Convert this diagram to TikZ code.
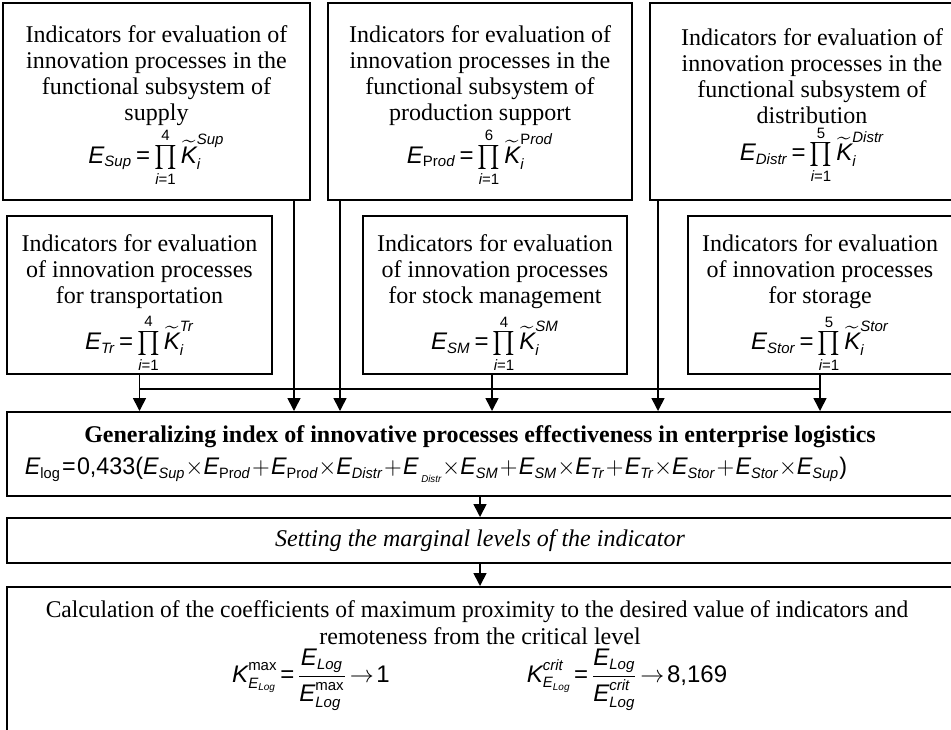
\documentclass[tikz,border=0pt]{standalone}
\usepackage{amsmath}
\usepackage{fontspec}
\setmainfont{Liberation Serif}
\newfontfamily\arf{Liberation Sans}
\usetikzlibrary{arrows.meta,calc}
\DeclareMathSizes{12}{12}{7.5}{5}
\newcommand{\si}[1]{\text{\arf\itshape #1}}
\newcommand{\su}[1]{\text{\arf\upshape #1}}
\newcommand{\peq}{\mathrel{\su{=}}}
\newcommand{\prodf}[4]{\raisebox{0pt}[\height][#4]{$\thickmuskip=3mu\si{E}_{#1}\peq\prod\limits_{\si{i}\su{=1}}^{\su{#2}}\widetilde{\si{K}}_{\si{i}}^{#3}$}}
\tikzset{
  box/.style={draw, line width=1pt, inner sep=0pt, align=center,
    font=\fontsize{12}{13}\selectfont},
  arr/.style={-{Triangle[width=6.5pt,length=6.5pt]}, line width=0.8pt},
  ln/.style={line width=0.8pt},
  txt/.style={font=\fontsize{12}{13}\selectfont, inner sep=0pt}
}
\begin{document}
\begin{tikzpicture}[x=0.5pt,y=-0.5pt]
\useasboundingbox (0,0) rectangle (951,729);
\clip (0,0) rectangle (951,729);
% top row
\node[box, minimum width=153.5pt, minimum height=98.5pt] (sup) at (156.5,101.5)
  {Indicators for evaluation of\\ innovation processes in the\\ functional subsystem of\\ supply\\[0pt]
   \prodf{\si{Sup}}{4}{\si{Sup}}{7pt}};
\node[box, minimum width=152pt, minimum height=98.5pt] (prod) at (480,101.5)
  {Indicators for evaluation of\\ innovation processes in the\\ functional subsystem of\\ production support\\[0pt]
   \prodf{\su{Pr}\si{od}}{6}{\su{P}\si{rod}}{7pt}};
\node[box, minimum width=162pt, minimum height=98.5pt] (distr) at (812,101.5)
  {Indicators for evaluation of\\ innovation processes in the\\ functional subsystem of\\ distribution\\[0pt]
   \prodf{\si{Distr}}{5}{\si{Distr}}{7pt}};
% second row
\node[box, minimum width=132.5pt, minimum height=79pt] (tr) at (139.5,295)
  {Indicators for evaluation\\ of innovation processes\\ for transportation\\[2pt]
   \prodf{\si{Tr}}{4}{\si{Tr}}{3pt}};
\node[box, minimum width=132pt, minimum height=79pt] (sm) at (495,295)
  {Indicators for evaluation\\ of innovation processes\\ for stock management\\[2pt]
   \prodf{\si{SM}}{4}{\si{SM}}{3pt}};
\node[box, minimum width=132pt, minimum height=79pt] (stor) at (820,295)
  {Indicators for evaluation\\ of innovation processes\\ for storage\\[2pt]
   \prodf{\si{Stor}}{5}{\si{Stor}}{3pt}};
% generalizing index
\node[box, minimum width=473pt, minimum height=42pt] (gen) at (480,454)
  {\textbf{Generalizing index of innovative processes effectiveness in enterprise logistics}\\[3pt]
   \scalebox{0.97}[1]{$\medmuskip=1mu\thickmuskip=1mu
   \si{E}_{\su{log}}\peq\su{0,433(}\si{E}_{\si{Sup}}{\times}\si{E}_{\su{Pr}\si{od}}+\si{E}_{\su{Pr}\si{od}}{\times}\si{E}_{\si{Distr}}+\si{E}_{\,\lower2pt\hbox{\arf\itshape\fontsize{5}{6}\selectfont Distr}}{\times}\si{E}_{\si{SM}}+\si{E}_{\si{SM}}{\times}\si{E}_{\si{Tr}}+\si{E}_{\si{Tr}}{\times}\si{E}_{\si{Stor}}+\si{E}_{\si{Stor}}{\times}\si{E}_{\si{Sup}}\su{)}$}\hspace*{44pt}};
% setting
\node[box, minimum width=473pt, minimum height=22.5pt] (set) at (480,540.5)
  {\itshape Setting the marginal levels of the indicator};
% calculation
\node[box, minimum width=473pt, minimum height=85pt, anchor=north] (calc) at (480,586) {};
\node[txt, anchor=base] (ct1) at (477,617)
  {\scalebox{0.98}[1]{Calculation of the coefficients of maximum proximity to the desired value of indicators and}};
\node[txt, anchor=base] (ct2) at (480,644) {remoteness from the critical level};
\node[txt] (f1) at (311,680)
  {$\thickmuskip=2mu\si{K}^{\su{max}}_{\si{E}_{\si{Log}}}\peq\dfrac{\si{E}_{\si{Log}}\rule[-3.5pt]{0pt}{1pt}}{\rule{0pt}{11pt}\si{E}^{\su{max}}_{\si{Log}}}\rightarrow\su{1}$};
\node[txt] (f2) at (627,680)
  {$\thickmuskip=2mu\si{K}^{\si{crit}}_{\si{E}_{\si{Log}}}\peq\dfrac{\si{E}_{\si{Log}}\rule[-3.5pt]{0pt}{1pt}}{\rule{0pt}{11pt}\si{E}^{\si{crit}}_{\si{Log}}}\rightarrow\su{8,169}$};
% connectors
\coordinate (bus) at (0,389);
\coordinate (xa) at (294,0);
\coordinate (xb) at (340,0);
\coordinate (xc) at (658,0);
\coordinate (xd) at (492,0);
\draw[ln] (tr.south |- bus) -- (stor.south |- bus);
\draw[arr] (sup.south -| xa) -- (gen.north -| xa);
\draw[arr] (prod.south -| xb) -- (gen.north -| xb);
\draw[arr] (distr.south -| xc) -- (gen.north -| xc);
\draw[arr] (tr.south) -- (tr.south |- gen.north);
\draw[arr] (sm.south -| xd) -- (gen.north -| xd);
\draw[arr] (stor.south) -- (stor.south |- gen.north);
\draw[arr] (gen.south) -- (set.north);
\draw[arr] (set.south) -- (calc.north);
\end{tikzpicture}
\end{document}
